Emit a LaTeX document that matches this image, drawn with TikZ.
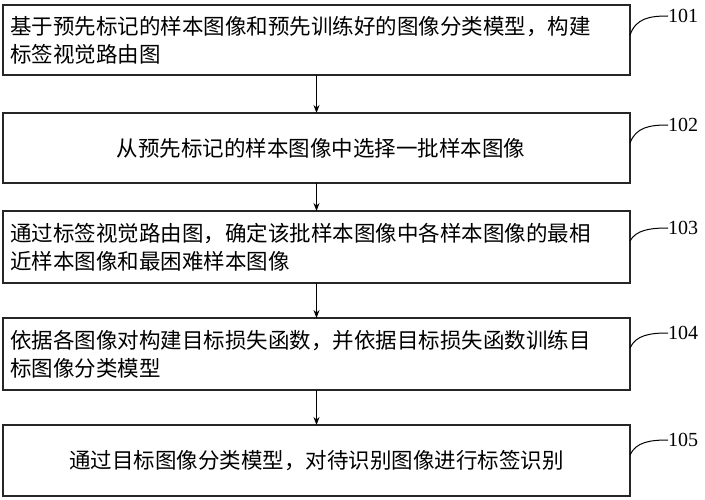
\documentclass[tikz,border=0pt]{standalone}
\usepackage{fontspec}
\usetikzlibrary{arrows.meta}
\setmainfont{Liberation Serif}
\newfontfamily\cjk{Noto Sans CJK SC}
\tikzset{
  stepbox/.style={draw, line width=1.2pt, gray!30!black},
  txt/.style={font=\cjk\fontsize{21.5}{28}\selectfont, anchor=west, align=left, text width=620pt, inner sep=0pt},
  ctxt/.style={font=\cjk\fontsize{21.5}{28}\selectfont},
  lbl/.style={font=\fontsize{20}{22}\selectfont, anchor=west, inner sep=0pt},
  arr/.style={-{Stealth[length=8pt,width=6pt]}, line width=1pt},
  lead/.style={line width=1pt}
}
\begin{document}
\begin{tikzpicture}[x=1pt,y=-1pt]
\useasboundingbox (0,0) rectangle (705,500);
\foreach \n/\t/\b in {1/5/75, 2/113/183, 3/211/283, 4/318/390, 5/425/496}{
  \draw[stepbox] (3,\t) rectangle (630,\b);
  \coordinate (top\n) at (316.5,\t);
  \coordinate (bot\n) at (316.5,\b);
  \coordinate (re\n) at (630,{\t+30});
}
\node[txt] (t1) at (10,40) {基于预先标记的样本图像和预先训练好的图像分类模型，构建\\标签视觉路由图};
\node[ctxt] (t2) at (321,148) {从预先标记的样本图像中选择一批样本图像};
\node[txt] (t3) at (10,247) {通过标签视觉路由图，确定该批样本图像中各样本图像的最相\\近样本图像和最困难样本图像};
\node[txt] (t4) at (10,354) {依据各图像对构建目标损失函数，并依据目标损失函数训练目\\标图像分类模型};
\node[ctxt] (t5) at (316.5,461) {通过目标图像分类模型，对待识别图像进行标签识别};
\foreach \a/\b in {1/2,2/3,3/4,4/5}{ \draw[arr] (bot\a) -- (top\b); }
\foreach \n/\y/\num in {1/16/101, 2/125/102, 3/228/103, 4/333/104, 5/440/105}{
  \node[lbl] (l\n) at (668,\y) {\num};
  \draw[lead] (re\n) .. controls (636,{\y+2}) and (650,\y) .. (l\n.west);
}
\end{tikzpicture}
\end{document}
